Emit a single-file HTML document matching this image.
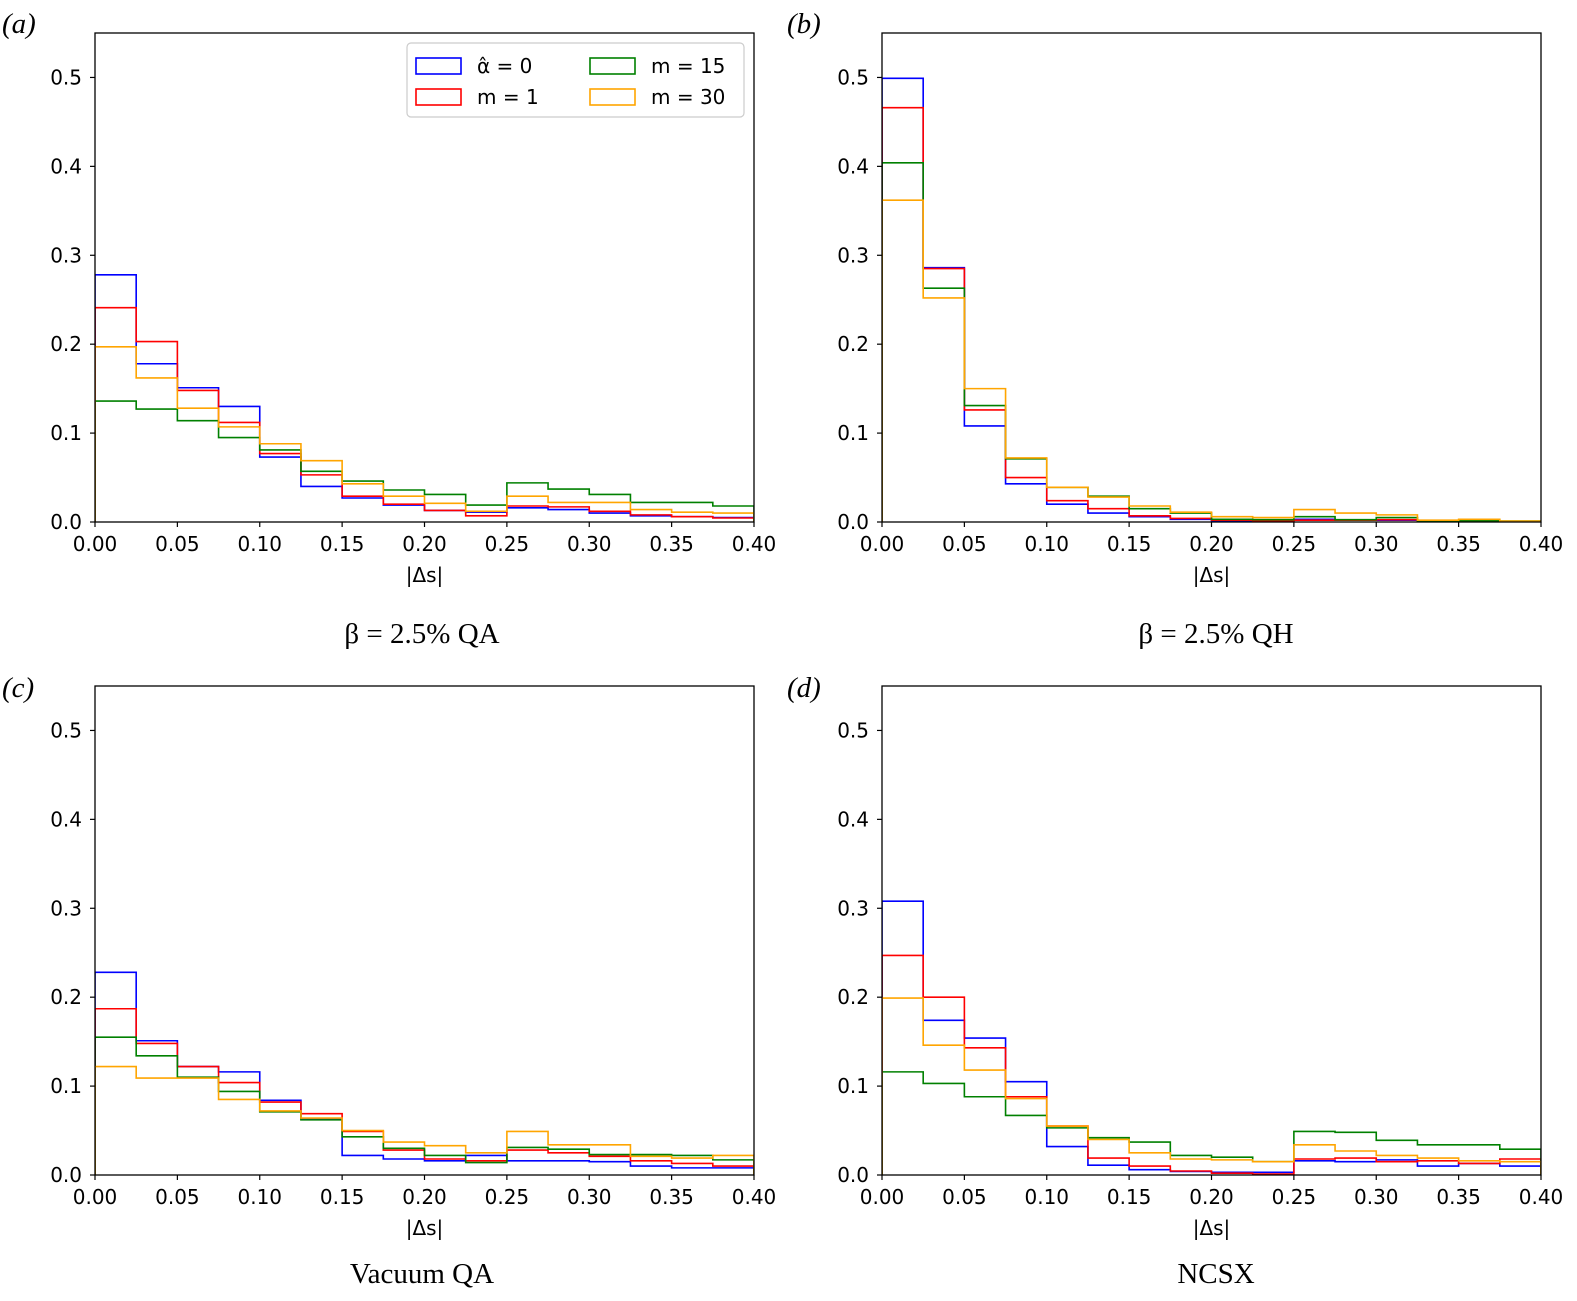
<!DOCTYPE html>
<html><head><meta charset="utf-8"><style>
html,body{margin:0;padding:0;background:#fff;overflow:hidden;width:1577px;height:1301px;}
svg{display:block;}
svg text{font-family:"DejaVu Sans","Liberation Sans",sans-serif;}
.serif{font-family:"Liberation Serif",serif !important;}
</style></head><body>
<svg id="fig" width="1577" height="1301" viewBox="0 0 1577 1301" xmlns="http://www.w3.org/2000/svg"></svg>
<script>
const binEdges = [0,0.025,0.05,0.075,0.1,0.125,0.15,0.175,0.2,0.225,0.25,0.275,0.3,0.325,0.35,0.375,0.4];
const xTicks = [0,0.05,0.1,0.15,0.2,0.25,0.3,0.35,0.4];
const xTickLabels = ["0.00","0.05","0.10","0.15","0.20","0.25","0.30","0.35","0.40"];
const yTicks = [0,0.1,0.2,0.3,0.4,0.5];
const yTickLabels = ["0.0","0.1","0.2","0.3","0.4","0.5"];
const seriesNames = ["alpha0","m1","m15","m30"];
const seriesColors = ["#0000ff","#ff0000","#008000","#ffa500"];
const drawOrder = [0,1,2,3];

const aBlue = [0.278,0.178,0.151,0.130,0.073,0.040,0.027,0.019,0.013,0.011,0.016,0.014,0.010,0.007,0.006,0.005];
const aRed = [0.241,0.203,0.148,0.112,0.077,0.053,0.029,0.020,0.013,0.007,0.018,0.017,0.012,0.008,0.006,0.0045];
const aGreen = [0.136,0.127,0.114,0.095,0.081,0.057,0.046,0.036,0.031,0.019,0.044,0.037,0.031,0.022,0.022,0.018];
const aOrange = [0.197,0.162,0.128,0.107,0.088,0.069,0.043,0.029,0.021,0.012,0.029,0.022,0.022,0.014,0.011,0.010];

const bBlue = [0.499,0.286,0.108,0.043,0.020,0.010,0.006,0.003,0.0015,0.001,0.003,0.002,0.002,0.0012,0.001,0.0005];
const bRed = [0.466,0.285,0.126,0.050,0.024,0.015,0.007,0.004,0.002,0.0015,0.002,0.002,0.0026,0.0015,0.001,0.0005];
const bGreen = [0.404,0.263,0.131,0.071,0.039,0.029,0.015,0.010,0.003,0.0026,0.006,0.0026,0.005,0.0015,0.0015,0.001];
const bOrange = [0.362,0.252,0.150,0.072,0.039,0.028,0.018,0.011,0.006,0.005,0.014,0.010,0.008,0.002,0.003,0.001];

const cBlue = [0.228,0.151,0.122,0.116,0.084,0.063,0.022,0.018,0.016,0.022,0.016,0.016,0.015,0.010,0.008,0.008];
const cRed = [0.187,0.148,0.122,0.104,0.082,0.069,0.049,0.028,0.018,0.016,0.028,0.025,0.021,0.016,0.013,0.010];
const cGreen = [0.155,0.134,0.110,0.094,0.071,0.062,0.043,0.030,0.022,0.014,0.031,0.029,0.023,0.023,0.022,0.017];
const cOrange = [0.122,0.109,0.109,0.085,0.072,0.064,0.050,0.037,0.033,0.025,0.049,0.034,0.034,0.021,0.019,0.022];

const dBlue = [0.308,0.174,0.154,0.105,0.032,0.011,0.006,0.004,0.003,0.003,0.016,0.015,0.017,0.010,0.013,0.010];
const dRed = [0.247,0.200,0.143,0.088,0.055,0.019,0.010,0.0045,0.002,0.001,0.018,0.019,0.015,0.016,0.013,0.018];
const dGreen = [0.116,0.103,0.088,0.067,0.053,0.042,0.037,0.022,0.020,0.015,0.049,0.048,0.039,0.034,0.034,0.029];
const dOrange = [0.199,0.146,0.118,0.086,0.055,0.040,0.025,0.018,0.017,0.015,0.034,0.027,0.022,0.019,0.016,0.015];

const panels = [
 {id:"a", letter:"(a)", title:"β = 2.5% QA", x0:95, y0:33, data:[aBlue,aRed,aGreen,aOrange], legend:true, lx:2, ly:33, tx:422, ty:643},
 {id:"b", letter:"(b)", title:"β = 2.5% QH", x0:882, y0:33, data:[bBlue,bRed,bGreen,bOrange], lx:787, ly:33, tx:1216, ty:643},
 {id:"c", letter:"(c)", title:"Vacuum QA", x0:95, y0:686, data:[cBlue,cRed,cGreen,cOrange], lx:2, ly:697, tx:422, ty:1283},
 {id:"d", letter:"(d)", title:"NCSX", x0:882, y0:686, data:[dBlue,dRed,dGreen,dOrange], lx:787, ly:697, tx:1216, ty:1283}
];
const W=659, H=489, XMAX=0.4, YMAX=0.55;
const NS="http://www.w3.org/2000/svg";
const fig=document.getElementById('fig');
function mk(tag, attrs, parent){const e=document.createElementNS(NS,tag);for(const k in attrs)e.setAttribute(k,attrs[k]);(parent||fig).appendChild(e);return e;}

panels.forEach(p=>{
  const sx=v=>p.x0+v/XMAX*W;
  const sy=v=>p.y0+H-v/YMAX*H;
  const g=mk('g',{});
  
  
  const clipId='clip'+p.id;
  const cp=mk('clipPath',{id:clipId},g);
  mk('rect',{x:p.x0,y:p.y0,width:W,height:H},cp);
  drawOrder.forEach(si=>{
    const vals=p.data[si];
    let d='M'+sx(binEdges[0])+','+sy(0);
    vals.forEach((v,i)=>{d+=' L'+sx(binEdges[i])+','+sy(v)+' L'+sx(binEdges[i+1])+','+sy(v);});
    d+=' L'+sx(binEdges[vals.length])+','+sy(0);
    const path=mk('path',{d:d,fill:'none',stroke:seriesColors[si],'stroke-width':1.6,'clip-path':'url(#'+clipId+')'},g);
    
    
  });
  const frame=mk('rect',{x:p.x0,y:p.y0,width:W,height:H,fill:'none',stroke:'#000','stroke-width':1.3},g);
  
  
  xTicks.forEach((v,i)=>{
    mk('line',{x1:sx(v),x2:sx(v),y1:p.y0+H,y2:p.y0+H+5,stroke:'#000','stroke-width':1.2},g);
    const t=mk('text',{x:sx(v),y:p.y0+H+29,'text-anchor':'middle','font-size':20},g);
    t.textContent=xTickLabels[i];
    
    
  });
  yTicks.forEach((v,i)=>{
    mk('line',{x1:p.x0-5,x2:p.x0,y1:sy(v),y2:sy(v),stroke:'#000','stroke-width':1.2},g);
    const t=mk('text',{x:p.x0-13,y:sy(v)+7,'text-anchor':'end','font-size':20},g);
    t.textContent=yTickLabels[i];
    
    
  });
  const xl=mk('text',{x:p.x0+W/2,y:p.y0+H+60,'text-anchor':'middle','font-size':20},g);
  xl.textContent='|Δs|';
  
  
  const lt=mk('text',{x:p.lx,y:p.ly,'font-size':29,'class':'serif','font-style':'italic'},g);
  lt.textContent=p.letter;
  
  
  const tt=mk('text',{x:p.tx,y:p.ty,'text-anchor':'middle','font-size':29,'class':'serif'},g);
  tt.textContent=p.title;
  
  
  if(p.legend){
    const lg=mk('g',{},g);
    
    
    mk('rect',{x:407,y:43,width:337,height:74,rx:4,fill:'#fff',stroke:'#ccc','stroke-width':1.2},lg);
    const labels=["α̂ = 0","m = 1","m = 15","m = 30"];
    const pos=[[416,58],[416,89],[590,58],[590,89]];
    labels.forEach((lab,i)=>{
      const r=mk('rect',{x:pos[i][0],y:pos[i][1],width:45,height:16,fill:'none',stroke:seriesColors[i],'stroke-width':1.6},lg);
      
      
      const t=mk('text',{x:pos[i][0]+61,y:pos[i][1]+15,'font-size':20},lg);
      t.textContent=lab;
      
      
    });
  }
});
</script>
</body></html>
